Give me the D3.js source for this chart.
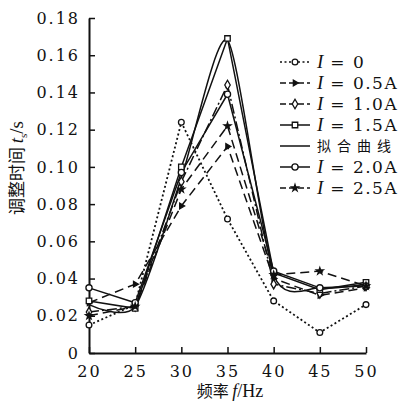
<!DOCTYPE html>
<html>
<head>
<meta charset="utf-8">
<script src="https://cdn.jsdelivr.net/npm/d3@7"></script>
<style>
  body { margin: 0; background: #fff; }
  text { fill: #111; }
</style>
</head>
<body>
<div id="chart"></div>
<script>
// 频率 (Hz)
const freqs = [20, 25, 30, 35, 40, 45, 50];
const yTicks = [0, 0.02, 0.04, 0.06, 0.08, 0.10, 0.12, 0.14, 0.16, 0.18];

// 调整时间 t_s (s), 各电流
const i0 = [0.015, 0.026, 0.124, 0.072, 0.028, 0.011, 0.026];
const i05 = [0.027, 0.037, 0.079, 0.111, 0.040, 0.031, 0.035];
const i10 = [0.022, 0.025, 0.092, 0.144, 0.037, 0.032, 0.036];
const i15 = [0.028, 0.024, 0.100, 0.169, 0.043, 0.034, 0.038];
const fit = [0.026, 0.025, 0.094, 0.168, 0.042, 0.035, 0.037];
const i20 = [0.035, 0.027, 0.097, 0.139, 0.044, 0.035, 0.036];
const i25 = [0.020, 0.025, 0.088, 0.122, 0.042, 0.044, 0.036];

const labels = ['I = 0', 'I = 0.5A', 'I = 1.0A', 'I = 1.5A', '拟合曲线', 'I = 2.0A', 'I = 2.5A'];

const series = [
    { name: labels[0], vals: i0, dash: '2,2.5', sym: d3.symbolCircle, size: 26, fill: '#fff', rot: 0, curve: d3.curveLinear },
    { name: labels[1], vals: i05, dash: '9,5', sym: d3.symbolTriangle, size: 14, fill: '#111', rot: 90, curve: d3.curveLinear },
    { name: labels[2], vals: i10, dash: '10,3,2,3', sym: d3.symbolDiamond, size: 26, fill: '#fff', rot: 0, curve: d3.curveLinear },
    { name: labels[3], vals: i15, dash: null, sym: d3.symbolSquare, size: 30, fill: '#fff', rot: 0, curve: d3.curveLinear },
    { name: labels[4], vals: fit, dash: null, sym: null, curve: d3.curveCardinal.tension(0.3) },
    { name: labels[5], vals: i20, dash: null, sym: d3.symbolCircle, size: 30, fill: '#fff', rot: 0, curve: d3.curveLinear },
    { name: labels[6], vals: i25, dash: '9,5', sym: d3.symbolStar, size: 14, fill: '#111', rot: 0, curve: d3.curveLinear }
];

const width = 410, height = 403;
const margin = { top: 18, right: 44, bottom: 50, left: 89 };

const svg = d3.select('#chart').append('svg')
    .attr('width', width).attr('height', height);

const x = d3.scaleLinear().domain([20, 50]).range([margin.left, width - margin.right]);
const y = d3.scaleLinear().domain([0, 0.18]).range([height - margin.bottom, margin.top]);

const numFont = 'DejaVu Serif, Liberation Serif, serif';

// axes
const xAxis = d3.axisBottom(x).tickValues(freqs).tickFormat(d3.format('d')).tickSizeInner(-6).tickSizeOuter(0).tickPadding(10);
const yAxis = d3.axisLeft(y).tickValues(yTicks).tickFormat(d => d === 0 ? '0' : d3.format('.2f')(d)).tickSizeInner(-6).tickSizeOuter(0).tickPadding(9);

const gx = svg.append('g').attr('transform', `translate(0,${y(0)})`).call(xAxis);
const gy = svg.append('g').attr('transform', `translate(${x(20)},0)`).call(yAxis);

[gx, gy].forEach(g => {
    g.select('.domain').attr('stroke', '#111').attr('stroke-width', 2);
    g.selectAll('.tick line').attr('stroke', '#111').attr('stroke-width', 1.5);
    g.selectAll('.tick text').attr('font-family', numFont).attr('font-size', 16)
        .attr('letter-spacing', 2).attr('fill', '#111');
});
gx.selectAll('.tick text').attr('dy', '0.85em');

// lines
const line = d3.line().x((d, i) => x(freqs[i])).y(d => y(d));

const plot = svg.append('g');
series.forEach(s => {
    plot.append('path')
        .datum(s.vals)
        .attr('fill', 'none')
        .attr('stroke', '#111')
        .attr('stroke-width', s.dash === '2,2.5' ? 1.8 : 1.5)
        .attr('stroke-dasharray', s.dash)
        .attr('d', line.curve(s.curve));
});

series.filter(s => s.sym).forEach(s => {
    plot.selectAll(null).data(s.vals).join('path')
        .attr('transform', (d, i) => `translate(${x(freqs[i])},${y(d)}) rotate(${s.rot})`)
        .attr('d', d3.symbol().type(s.sym).size(s.size))
        .attr('fill', s.fill)
        .attr('stroke', '#111')
        .attr('stroke-width', 1.3);
});

// legend
const legend = svg.append('g').attr('transform', 'translate(280,62)');
series.forEach((s, i) => {
    const g = legend.append('g').attr('transform', `translate(0,${i * 21})`);
    g.append('line').attr('x1', 0).attr('x2', 30).attr('y1', 0).attr('y2', 0)
        .attr('stroke', '#111').attr('stroke-width', 1.5)
        .attr('stroke-dasharray', s.dash ? (s.dash === '2,2.5' ? '2,2.5' : '6,3') : null);
    if (s.sym) {
        g.append('path')
            .attr('transform', `translate(15,0) rotate(${s.rot})`)
            .attr('d', d3.symbol().type(s.sym).size(s.size))
            .attr('fill', s.fill).attr('stroke', '#111').attr('stroke-width', 1.3);
    }
    const t = g.append('text').attr('x', 37).attr('y', 0).attr('dy', '0.35em')
        .attr('font-size', 17).attr('font-family', numFont);
    if (s.name.startsWith('I')) {
        t.append('tspan').attr('font-style', 'italic').attr('font-family', 'Liberation Serif, serif').attr('font-size', 19).text('I');
        t.append('tspan').attr('letter-spacing', 1.5).text(s.name.slice(1));
    } else {
        t.attr('font-family', 'Noto Sans CJK SC').attr('font-size', 14).attr('letter-spacing', 6).text(s.name);
    }
});

// axis titles
const xt = svg.append('text')
    .attr('x', 230).attr('y', 397)
    .attr('text-anchor', 'middle')
    .attr('font-size', 16)
    .attr('font-family', 'Noto Sans CJK SC');
xt.append('tspan').text('频率 ');
xt.append('tspan').attr('font-family', 'Liberation Serif, serif').attr('font-style', 'italic').attr('font-size', 18).text('f');
xt.append('tspan').attr('font-family', 'Liberation Serif, serif').attr('font-size', 18).text('/Hz');

const yt = svg.append('text')
    .attr('transform', 'translate(23,168) rotate(-90)')
    .attr('text-anchor', 'middle')
    .attr('font-size', 17)
    .attr('font-family', 'Noto Sans CJK SC');
yt.append('tspan').text('调整时间 ');
yt.append('tspan').attr('font-family', 'Liberation Serif, serif').attr('font-style', 'italic').attr('font-size', 19).text('t');
yt.append('tspan').attr('font-family', 'Liberation Serif, serif').attr('font-size', 11).attr('dy', 4).text('s');
yt.append('tspan').attr('font-family', 'Liberation Serif, serif').attr('font-size', 19).attr('dy', -4).text('/s');
</script>
</body>
</html>
